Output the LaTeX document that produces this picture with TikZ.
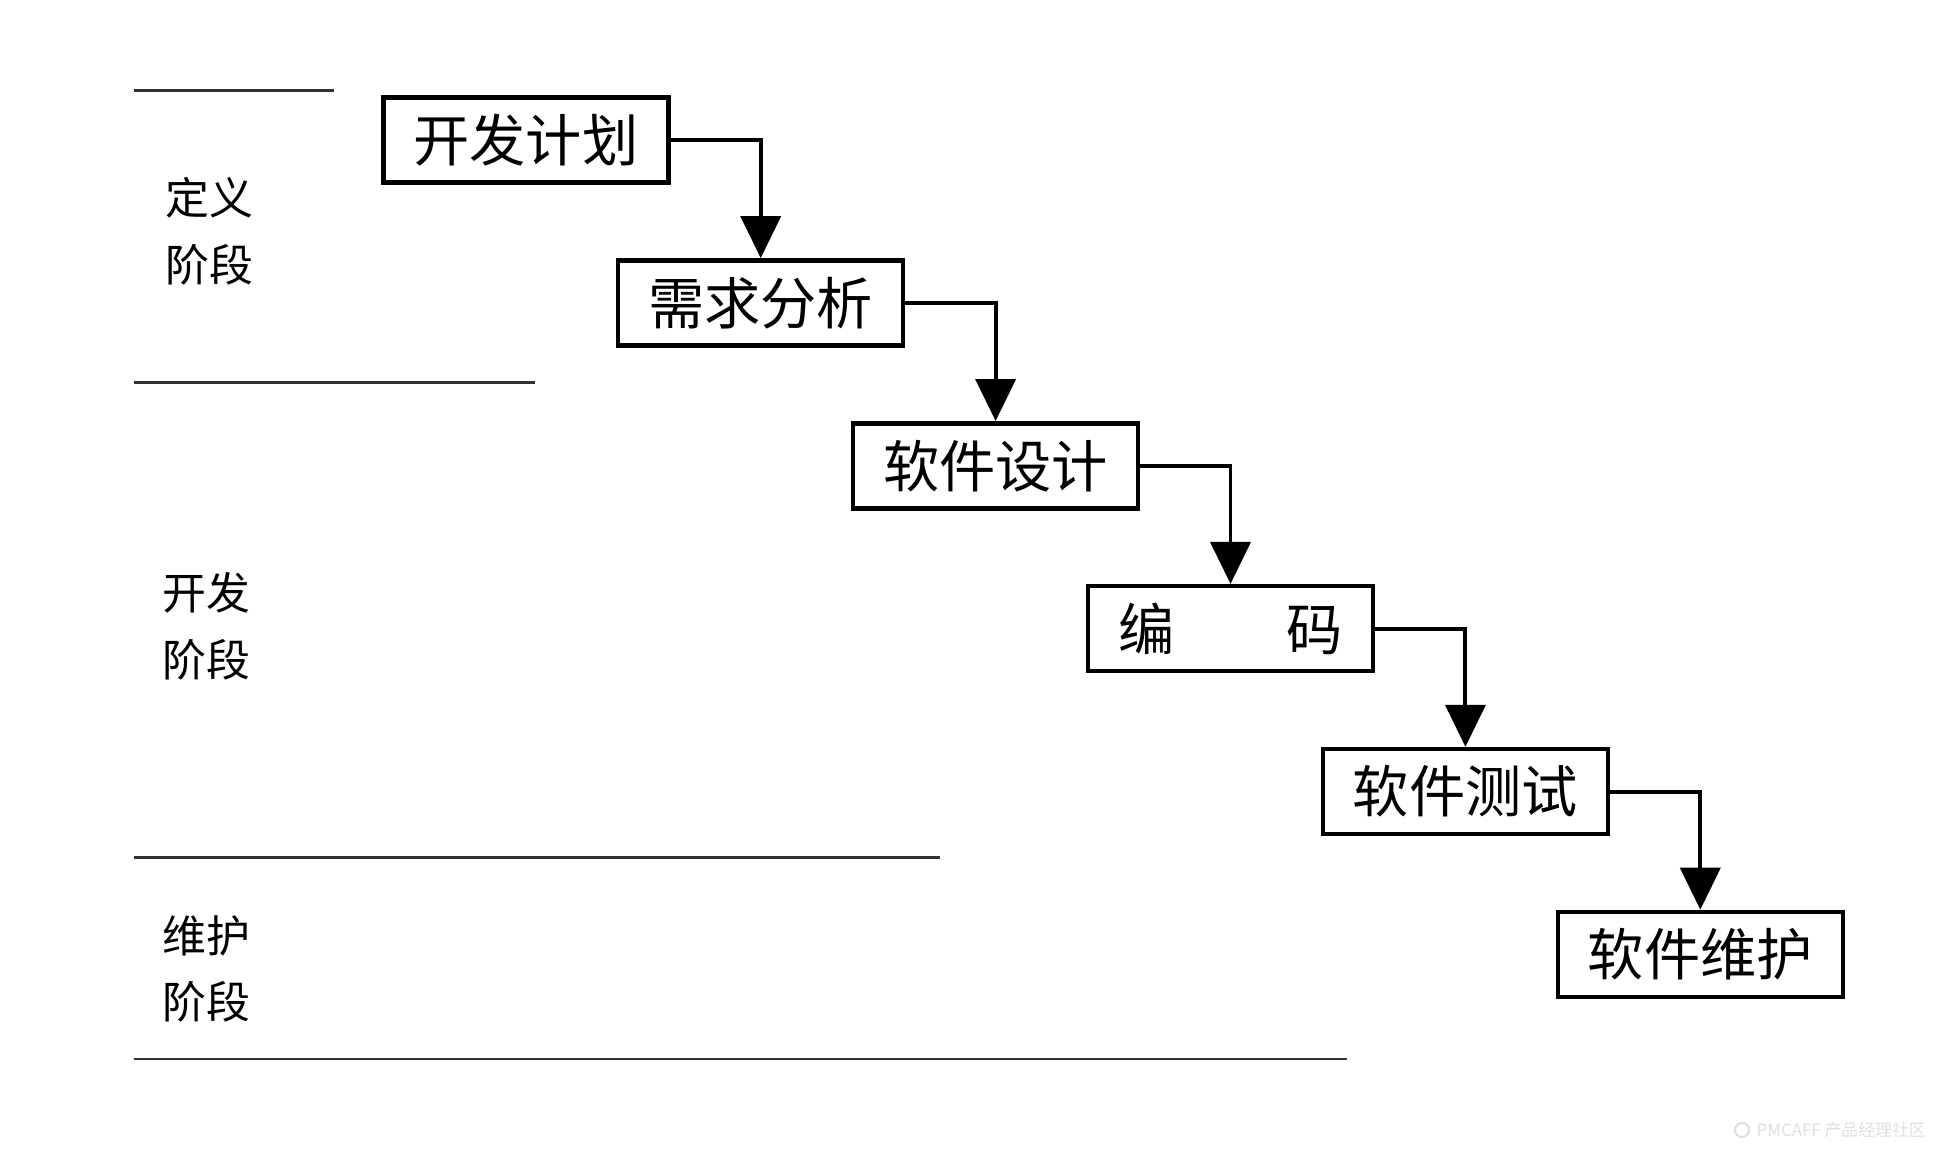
\documentclass[tikz,border=0pt]{standalone}
\usepackage{fontspec}
\setmainfont{Noto Sans CJK SC}
\usetikzlibrary{arrows.meta}

\begin{document}
\begin{tikzpicture}
    \tikzset{
        boxstyle/.style={draw=black, line width=1.3pt, minimum width=2.85cm, minimum height=0.85cm, inner sep=0pt, font=\fontsize{16}{19}\selectfont},
        arrowstyle/.style={line width=1.1pt, -{Triangle[length=0.42cm, width=0.40cm]}},
        sepstyle/.style={black!80, line width=0.8pt},
        labelstyle/.style={align=left, font=\fontsize{12.5}{19}\selectfont}
    }
    \useasboundingbox (0,0) rectangle (19.4,-11.5);

    % Etapes (en cascade)
    \foreach \i/\t in {1/开发计划, 2/需求分析, 3/软件设计, 4/编\quad\quad 码, 5/软件测试, 6/软件维护} {
        \node[boxstyle] (b\i) at ({5.258+2.349*(\i-1)}, {-1.40-1.629*(\i-1)}) {\t};
    }

    % Flèches entre étapes
    \foreach \i/\j in {1/2,2/3,3/4,4/5,5/6} {
        \draw[arrowstyle] (b\i.east) -| (b\j.north);
    }

    % Lignes de séparation des phases
    \draw[sepstyle] (1.336,-0.903) -- (3.34,-0.903);
    \draw[sepstyle] (1.336,-3.823) -- (5.345,-3.823);
    \draw[sepstyle] (1.336,-8.574) -- (9.403,-8.574);
    \draw[sepstyle] (1.336,-10.59) -- (13.473,-10.59);

    % Phases
    \node[labelstyle] (defphase) at (2.09,-2.31) {定义\\阶段};
    \node[labelstyle] (devphase) at (2.066,-6.26) {开发\\阶段};
    \node[labelstyle] (mntphase) at (2.066,-9.69) {维护\\阶段};

    % Filigrane
    \draw[gray!25, line width=0.6pt] (17.42,-11.3) circle (0.07);
    \node[anchor=west, inner sep=0pt, gray!25, font=\fontsize{4.8}{6}\selectfont] (wmark) at (17.56,-11.3) {PMCAFF 产品经理社区};
\end{tikzpicture}
\end{document}
